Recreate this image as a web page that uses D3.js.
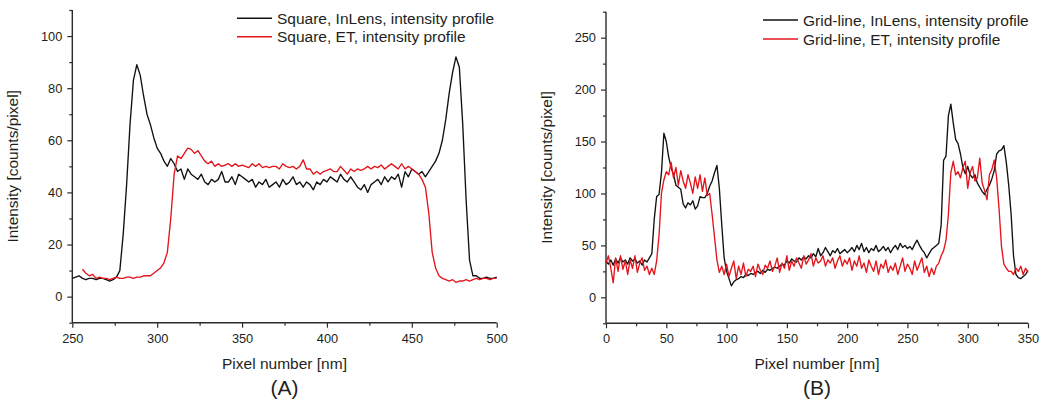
<!DOCTYPE html>
<html><head><meta charset="utf-8">
<script src="https://cdn.jsdelivr.net/npm/d3@7"></script>
<style>
body{margin:0;background:#fff;}
svg text{font-family:"Liberation Sans",Arial,sans-serif;fill:#231f20;}
</style></head><body>
<svg id="chart" width="1044" height="399"></svg>
<script>
// ---------- Panel A : Square ----------
const pixelSquareInLens = d3.range(250, 501, 2);
const squareInLens = [
  7, 7.5, 8, 7, 6.5, 7, 7, 6.5, 7, 7,
  6.5, 6, 6.5, 7.5, 10, 24, 43, 66, 83, 89,
  85, 77, 70, 66, 61, 57, 55, 52, 50, 53,
  51, 48, 49, 45, 49, 47, 46, 45, 47, 44,
  43, 45, 44, 45, 48, 44, 44, 46, 43, 47,
  46, 45, 44, 45, 42, 44, 43, 45, 42, 43,
  44, 42, 45, 43, 44, 46, 43, 44, 42, 44,
  43, 41, 44, 43, 45, 44, 46, 45, 44, 47,
  45, 44, 46, 44, 42, 41, 43, 40, 43, 44,
  45, 43, 46, 44, 46, 45, 47, 42, 48, 46,
  49, 48, 47, 48, 46, 48, 50, 52, 55, 60,
  68, 78, 86, 92, 88, 66, 37, 14, 8, 8,
  7, 7, 7.5, 7, 7, 7.5
];
const pixelSquareET = d3.range(256, 501, 2);
const squareET = [
  10.5, 9, 8, 8.5, 7, 7.5, 7, 7, 6.5, 7,
  7.5, 7, 7, 7.5, 7.5, 7, 7.5, 7.5, 8, 8,
  8, 9, 10, 11, 13, 17, 30, 47, 54, 53,
  55, 57, 56.5, 55, 56, 54, 52, 51, 52, 50,
  51, 50, 50.5, 51, 50, 51, 50, 50.5, 50, 49.5,
  51, 50, 51, 49.5, 50, 49.5, 50, 50, 49, 51,
  50, 49.5, 50, 49, 50, 52.5, 49, 49, 47, 48,
  47, 48, 48.5, 49, 48, 48, 50, 48.5, 47, 49,
  48, 49, 48.5, 49, 50, 49, 50, 49.5, 50.5, 49,
  50, 51, 50, 49, 51, 49, 50, 49, 48, 47,
  45, 42, 32, 17, 11, 8, 7, 6.5, 6, 6.5,
  5.5, 6, 6, 6.5, 6, 6.5, 7, 6.5, 7, 7,
  6.5, 7, 7
];
// ---------- Panel B : Grid-line ----------
const pixelGrid = d3.range(0, 351, 2);
const gridInLens = [
  35, 32, 36, 31, 37, 33, 38, 34, 36, 32,
  38, 35, 37, 33, 35, 31, 36, 34, 38, 42,
  75, 97, 99, 120, 158, 150, 135, 125, 118, 108,
  106, 104, 90, 86, 91, 89, 93, 85, 88, 97,
  96, 96, 100, 107, 112, 120, 127, 105, 70, 38,
  25, 18, 11, 15, 17, 18, 20, 19, 22, 21,
  23, 22, 24, 25, 23, 26, 24, 27, 26, 28,
  29, 28, 30, 32, 31, 35, 33, 37, 35, 34,
  38, 36, 39, 37, 40, 38, 42, 39, 47, 40,
  43, 48, 44, 40, 45, 43, 47, 42, 44, 46,
  43, 45, 48, 44, 50, 46, 52, 44, 48, 43,
  47, 45, 50, 44, 46, 49, 45, 48, 43, 47,
  50, 46, 52, 48, 50, 47, 49, 46, 51, 55,
  50, 46, 43, 38, 42, 46, 48, 50, 52, 70,
  132, 136, 175, 186, 168, 152, 148, 138, 125, 119,
  126, 118, 115, 118, 110, 106, 102, 99, 104, 108,
  114, 122, 138, 141, 142, 146, 130, 108, 80, 40,
  22, 19, 18, 20, 22, 26
];
const gridET = [
  33, 40, 28, 14, 38, 25, 40, 27, 35, 22,
  36, 28, 40, 24, 33, 38, 26, 30, 22, 28,
  22, 35, 60, 100, 113, 121, 118, 130, 115, 125,
  108, 122, 112, 105, 118, 110, 100, 116, 105, 118,
  102, 115, 98, 100, 80, 58, 36, 24, 30, 22,
  32, 20, 28, 35, 18, 30, 22, 33, 20, 27,
  25, 30, 20, 32, 26, 22, 31, 28, 35, 25,
  30, 38, 24, 33, 28, 40, 26, 35, 30, 38,
  33, 28, 40, 32, 36, 42, 30, 38, 33, 35,
  40, 30, 36, 33, 38, 28, 35, 40, 30, 36,
  32, 38, 26, 35, 30, 40, 28, 33, 24, 36,
  30, 25, 35, 22, 32, 28, 36, 24, 30, 26,
  33, 22, 30, 38, 25, 32, 28, 22, 35, 26,
  32, 38, 24, 30, 20, 28, 22, 30, 33, 40,
  45, 55, 80, 120, 131, 118, 121, 115, 125, 131,
  105, 120, 126, 112, 115, 134, 110, 103, 94, 118,
  123, 132, 115, 85, 49, 32, 28, 25, 25, 22,
  28, 25, 30, 22, 28, 24
];
// ---------- Axis ticks / labels ----------
const xMajorA = [250, 300, 350, 400, 450, 500];
const xMinorA = [275, 325, 375, 425, 475];
const yMajorA = [0, 20, 40, 60, 80, 100];
const yMinorA = [-10, 10, 30, 50, 70, 90, 110];
const xMajorB = [0, 50, 100, 150, 200, 250, 300, 350];
const xMinorB = [25, 75, 125, 175, 225, 275, 325];
const yMajorB = [0, 50, 100, 150, 200, 250];
const yMinorB = [-25, 25, 75, 125, 175, 225, 275];
const seriesNamesA = ["Square, InLens, intensity profile", "Square, ET, intensity profile"];
const seriesNamesB = ["Grid-line, InLens, intensity profile", "Grid-line, ET, intensity profile"];
const xTitle = "Pixel number [nm]";
const yTitle = "Intensity [counts/pixel]";
const colors = ["#111111", "#e3141b"];

const svg = d3.select("#chart");

function panel(cfg) {
  const x = d3.scaleLinear().domain(cfg.xDomain).range(cfg.xRange);
  const y = d3.scaleLinear().domain(cfg.yDomain).range(cfg.yRange);
  const g = svg.append("g");
  const axisColor = "#2b2b2b";

  const gx = g.append("g").attr("transform", `translate(0,${cfg.yRange[0]})`);
  gx.call(d3.axisBottom(x).tickValues(cfg.xMajor).tickSize(5).tickPadding(6).tickFormat(d3.format("d")));
  const gxm = g.append("g").attr("transform", `translate(0,${cfg.yRange[0]})`);
  gxm.call(d3.axisBottom(x).tickValues(cfg.xMinor).tickSize(3).tickFormat(""));
  const gy = g.append("g").attr("transform", `translate(${cfg.xRange[0]},0)`);
  gy.call(d3.axisLeft(y).tickValues(cfg.yMajor).tickSize(5).tickPadding(5).tickFormat(d3.format("d")));
  const gym = g.append("g").attr("transform", `translate(${cfg.xRange[0]},0)`);
  gym.call(d3.axisLeft(y).tickValues(cfg.yMinor).tickSize(3).tickFormat(""));

  [gx, gxm, gy, gym].forEach(a => {
    a.select(".domain").remove();
    a.selectAll(".tick line").attr("stroke", axisColor).attr("stroke-width", 1.2);
    a.selectAll(".tick text").attr("font-size", 12.8).attr("fill", "#231f20")
      .style("font-family", '"Liberation Sans", Arial, sans-serif');
  });
  g.append("line").attr("x1", cfg.xRange[0]).attr("x2", cfg.xRange[1])
    .attr("y1", cfg.yRange[0]).attr("y2", cfg.yRange[0])
    .attr("stroke", axisColor).attr("stroke-width", 1.4);
  g.append("line").attr("x1", cfg.xRange[0]).attr("x2", cfg.xRange[0])
    .attr("y1", cfg.yRange[0]).attr("y2", cfg.yRange[1])
    .attr("stroke", axisColor).attr("stroke-width", 1.4);

  const line = d3.line().x(d => x(d[0])).y(d => y(d[1]));
  cfg.series.forEach((s, i) => {
    const pts = s.px.map((p, k) => [p, s.v[k]]);
    g.append("path").datum(pts).attr("d", line)
      .attr("fill", "none").attr("stroke", colors[i])
      .attr("stroke-width", 1.35).attr("stroke-linejoin", "round");
  });

  cfg.names.forEach((n, i) => {
    const ly = cfg.legendY[i];
    g.append("line").attr("x1", cfg.legendX).attr("x2", cfg.legendX + 35)
      .attr("y1", ly).attr("y2", ly).attr("stroke", colors[i]).attr("stroke-width", 1.4);
    g.append("text").attr("x", cfg.legendX + 40).attr("y", ly + 5.5)
      .attr("font-size", 15.5).text(n);
  });

  const cx = (cfg.xRange[0] + cfg.xRange[1]) / 2;
  g.append("text").attr("x", cx).attr("y", 368.5).attr("text-anchor", "middle")
    .attr("font-size", 15.5).text(xTitle);
  g.append("text").attr("x", cx).attr("y", 394.5).attr("text-anchor", "middle")
    .attr("font-size", 21).text(cfg.letter);
  const cy = (cfg.yRange[0] + cfg.yRange[1]) / 2;
  g.append("text").attr("transform", `translate(${cfg.yTitleX},${cy}) rotate(-90)`)
    .attr("text-anchor", "middle").attr("font-size", 15.5).text(yTitle);
}

panel({
  xDomain: [250, 500], xRange: [72.3, 496.7],
  yDomain: [-10, 110], yRange: [322.7, 10],
  xMajor: xMajorA, xMinor: xMinorA, yMajor: yMajorA, yMinor: yMinorA,
  series: [{px: pixelSquareInLens, v: squareInLens}, {px: pixelSquareET, v: squareET}],
  names: seriesNamesA, legendX: 237, legendY: [18.3, 36.7],
  letter: "(A)", yTitleX: 18
});
panel({
  xDomain: [0, 350], xRange: [606, 1028],
  yDomain: [-25, 275], yRange: [323.3, 11.7],
  xMajor: xMajorB, xMinor: xMinorB, yMajor: yMajorB, yMinor: yMinorB,
  series: [{px: pixelGrid, v: gridInLens}, {px: pixelGrid, v: gridET}],
  names: seriesNamesB, legendX: 763, legendY: [20, 39],
  letter: "(B)", yTitleX: 552
});
</script>
</body></html>
